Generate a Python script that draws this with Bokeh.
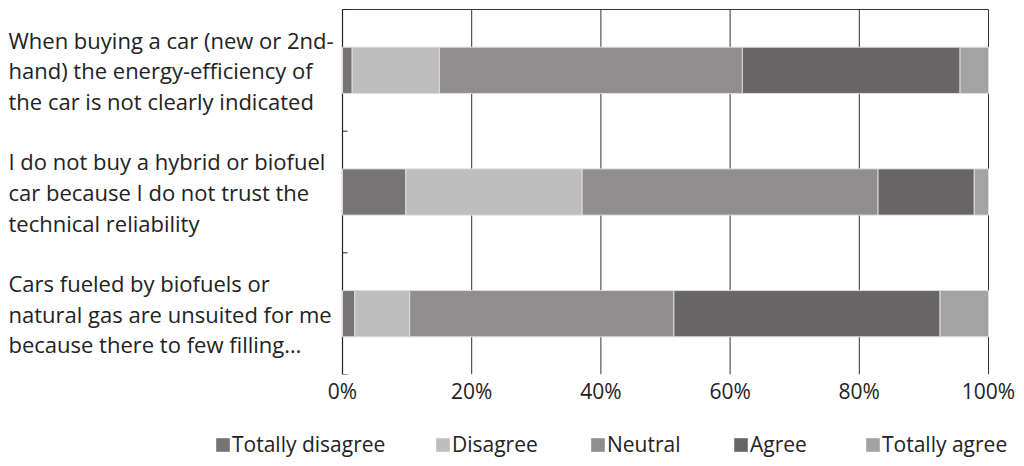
from bokeh.plotting import figure
from bokeh.layouts import column
from bokeh.models import Range1d, Legend, LegendItem, FixedTicker
from bokeh.core.properties import value
from bokeh.embed import file_html
from bokeh.resources import INLINE

questions = [
    "When buying a car (new or 2nd-\nhand) the energy-efficiency of\nthe car is not clearly indicated",
    "I do not buy a hybrid or biofuel\ncar because I do not trust the\ntechnical reliability",
    "Cars fueled by biofuels or\nnatural gas are unsuited for me\nbecause there to few filling\u2026",
]
series = ["Totally disagree", "Disagree", "Neutral", "Agree", "Totally agree"]
totally_disagree = [1.5, 9.8, 1.9]
disagree = [13.5, 27.3, 8.5]
neutral = [46.9, 45.8, 40.9]
agree = [33.7, 14.9, 41.2]
totally_agree = [4.4, 2.2, 7.5]
colors = ["#767474", "#bebebe", "#8f8d8d", "#676565", "#a3a3a3"]
x_ticks = [0, 20, 40, 60, 80, 100]

FONT = "Open Sans"
n = len(questions)
ypos = [n - 0.5 - i for i in range(n)]
values = [totally_disagree, disagree, neutral, agree, totally_agree]

# main chart: frame covers the whole width; 0% at 342px, 100% at 988px
pxu = 6.46
p = figure(frame_width=1016, frame_height=374, output_backend="svg", toolbar_location=None,
           x_range=Range1d(-342 / pxu, 100 + 28 / pxu), y_range=Range1d(0, n + 9 / 121.7),
           min_border_left=0, min_border_right=0, min_border_top=0, min_border_bottom=44,
           y_axis_type=None)
p.outline_line_color = None
p.xgrid.grid_line_color = None
p.ygrid.grid_line_color = None

grid_x = x_ticks[1:]
p.segment(x0=grid_x, y0=[0] * len(grid_x), x1=grid_x, y1=[n] * len(grid_x),
          line_color="#333333", line_width=1)
p.segment(x0=[0], y0=[n], x1=[100], y1=[n], line_color="#333333", line_width=1)
p.segment(x0=[0], y0=[0], x1=[0], y1=[n], line_color="#222222", line_width=1.2)
bounds = list(range(n + 1))
p.segment(x0=[0] * len(bounds), y0=bounds, x1=[5 / pxu] * len(bounds), y1=bounds,
          line_color="#222222", line_width=1)

stacks = []
left = [0.0] * n
for vals in values:
    right = [l + v for l, v in zip(left, vals)]
    stacks.append((left, right))
    left = right

for (l, r), col in zip(stacks, colors):
    p.hbar(y=ypos, left=l, right=r, height=0.38, fill_color=col,
           line_color="#dcdcdc", line_width=1)

p.text(x=[-334 / pxu] * n, y=ypos, text=questions, text_align="left", text_baseline="middle",
       text_font=value(FONT), text_font_size="22px", text_color="#222222",
       text_line_height=1.02)

xa = p.xaxis[0]
xa.ticker = FixedTicker(ticks=x_ticks)
xa.major_label_overrides = {t: f"{t}%" for t in x_ticks}
xa.axis_line_color = None
xa.major_tick_line_color = None
xa.minor_tick_line_color = None
xa.major_label_text_font = FONT
xa.major_label_text_font_size = "21px"
xa.major_label_text_color = "#222222"
xa.major_label_standoff = -4

# legend strip below the chart (its bars lie outside its visible y range)
q = figure(frame_width=1016, frame_height=48, output_backend="svg", toolbar_location=None,
           x_range=Range1d(0, 100), y_range=Range1d(10, 11),
           min_border_left=0, min_border_right=0, min_border_top=0, min_border_bottom=0,
           x_axis_type=None, y_axis_type=None)
q.outline_line_color = None
q.xgrid.grid_line_color = None
q.ygrid.grid_line_color = None
leg_x = [214, 434, 589, 732, 864]
for name, (l, r), col, lx in zip(series, stacks, colors, leg_x):
    rr = q.hbar(y=ypos, left=l, right=r, height=0.38, fill_color=col, line_color=None)
    lg = Legend(items=[LegendItem(label=name, renderers=[rr])], location=(lx, 8))
    lg.glyph_width = 17
    lg.glyph_height = 17
    lg.label_height = 28
    lg.label_standoff = 1
    lg.padding = 0
    lg.margin = 0
    lg.border_line_color = None
    lg.background_fill_alpha = 0
    lg.label_text_font = FONT
    lg.label_text_font_size = "21px"
    lg.label_text_color = "#222222"
    q.add_layout(lg, "center")

layout = column(p, q, spacing=0)
open("out.html", "w").write(file_html(layout, INLINE))
